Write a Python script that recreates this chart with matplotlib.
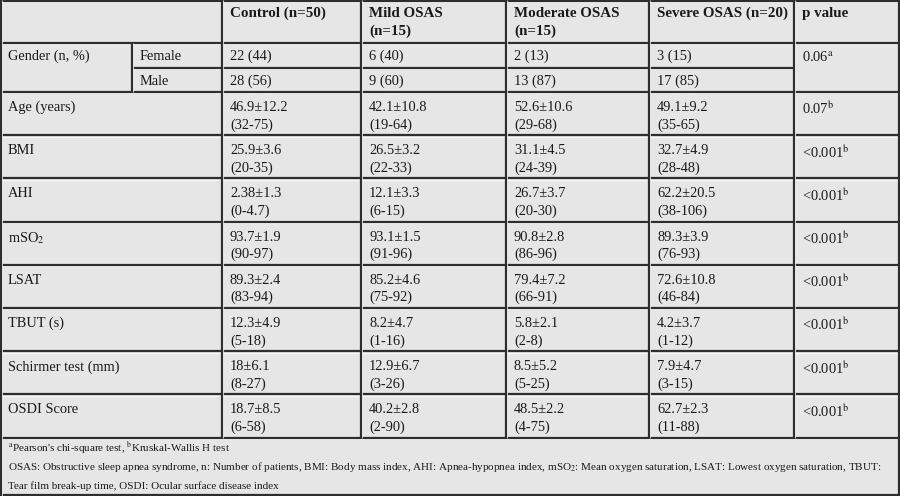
import matplotlib.pyplot as plt

plt.rcParams['font.family'] = ['Liberation Serif', 'DejaVu Serif']
plt.rcParams['mathtext.fontset'] = 'stix'

# table content
headers = ["Control (n=50)", "Mild OSAS\n(n=15)", "Moderate OSAS\n(n=15)", "Severe OSAS (n=20)", "p value"]
gender_female = ["22 (44)", "6 (40)", "2 (13)", "3 (15)"]
gender_male = ["28 (56)", "9 (60)", "13 (87)", "17 (85)"]
gender_p = "0.06$^{\\mathrm{a}}$"

row_labels = ["Age (years)", "BMI", "AHI", "mSO$_2$", "LSAT", "TBUT (s)",
              "Schirmer test (mm)", "OSDI Score"]
control = ["46.9±12.2\n(32-75)", "25.9±3.6\n(20-35)", "2.38±1.3\n(0-4.7)", "93.7±1.9\n(90-97)",
           "89.3±2.4\n(83-94)", "12.3±4.9\n(5-18)", "18±6.1\n(8-27)", "18.7±8.5\n(6-58)"]
mild = ["42.1±10.8\n(19-64)", "26.5±3.2\n(22-33)", "12.1±3.3\n(6-15)", "93.1±1.5\n(91-96)",
        "85.2±4.6\n(75-92)", "8.2±4.7\n(1-16)", "12.9±6.7\n(3-26)", "40.2±2.8\n(2-90)"]
moderate = ["52.6±10.6\n(29-68)", "31.1±4.5\n(24-39)", "26.7±3.7\n(20-30)", "90.8±2.8\n(86-96)",
            "79.4±7.2\n(66-91)", "5.8±2.1\n(2-8)", "8.5±5.2\n(5-25)", "48.5±2.2\n(4-75)"]
severe = ["49.1±9.2\n(35-65)", "32.7±4.9\n(28-48)", "62.2±20.5\n(38-106)", "89.3±3.9\n(76-93)",
          "72.6±10.8\n(46-84)", "4.2±3.7\n(1-12)", "7.9±4.7\n(3-15)", "62.7±2.3\n(11-88)"]
p_values = ["0.07$^{\\mathrm{b}}$"] + ["<0.001$^{\\mathrm{b}}$"] * 7

footnotes = [
    "$^{\\mathrm{a}}$Pearson's chi-square test, $^{\\mathrm{b}}$Kruskal-Wallis H test",
    "OSAS: Obstructive sleep apnea syndrome, n: Number of patients, BMI: Body mass index, AHI: "
    "Apnea-hypopnea index, mSO$_2$: Mean oxygen saturation, LSAT: Lowest oxygen saturation, TBUT:",
    "Tear film break-up time, OSDI: Ocular surface disease index",
]

# layout (pixels)
col_x = [0, 132, 222, 361, 506, 649, 794, 898.5]
header_bottom = 43
female_bottom = 68
male_bottom = 92
row_h = 43.2
table_bottom = male_bottom + row_h * len(row_labels)
fig_w, fig_h = 900, 496

bg = '#e6e6e7'
line_c = '#2e2e2e'
txt_c = '#1a1a1a'
fs = 10.4

fig = plt.figure(figsize=(9, 4.96), dpi=100)
fig.patch.set_facecolor(bg)
ax = fig.add_axes([0, 0, 1, 1])
ax.set_xlim(0, fig_w)
ax.set_ylim(fig_h, 0)
ax.axis('off')


def hline(y, x0, x1):
    ax.plot([x0, x1], [y + 1.4, y + 1.4], color='white', lw=0.8, alpha=0.8, solid_capstyle='butt')
    ax.plot([x0, x1], [y, y], color=line_c, lw=1.6, solid_capstyle='butt')


def vline(x, y0, y1):
    ax.plot([x + 1.4, x + 1.4], [y0, y1], color='white', lw=0.8, alpha=0.8, solid_capstyle='butt')
    ax.plot([x, x], [y0, y1], color=line_c, lw=1.6, solid_capstyle='butt')


# horizontal rules
hline(0.8, 0, col_x[-1])
hline(header_bottom, 0, col_x[-1])
hline(female_bottom, col_x[1], col_x[6])
hline(male_bottom, 0, col_x[-1])
for i in range(1, len(row_labels) + 1):
    hline(male_bottom + row_h * i, 0, col_x[-1])
hline(fig_h - 1, 0, col_x[-1])

# vertical rules
vline(0.8, 0, fig_h)
vline(col_x[-1], 0, fig_h)
vline(col_x[1], header_bottom, male_bottom)
for x in col_x[2:7]:
    vline(x, 0, table_bottom)

pad = 8
# header
for j, h in enumerate(headers):
    ax.text(col_x[j + 2] + pad, 7, h, fontsize=10.8, fontweight='bold', color=txt_c,
            va='top', ha='left', linespacing=1.45)

# gender rows
g_off = 7
ax.text(pad, header_bottom + g_off, "Gender (n, %)", fontsize=fs, color=txt_c, va='top')
ax.text(col_x[1] + pad, header_bottom + g_off, "Female", fontsize=fs, color=txt_c, va='top')
ax.text(col_x[1] + pad, female_bottom + g_off, "Male", fontsize=fs, color=txt_c, va='top')
for j in range(4):
    ax.text(col_x[j + 2] + pad, header_bottom + g_off, gender_female[j], fontsize=fs, color=txt_c, va='top')
    ax.text(col_x[j + 2] + pad, female_bottom + g_off, gender_male[j], fontsize=fs, color=txt_c, va='top')
ax.text(col_x[6] + pad, header_bottom + g_off, gender_p, fontsize=fs, color=txt_c, va='top')

# numeric rows
cols = [control, mild, moderate, severe]
for i, lab in enumerate(row_labels):
    top = male_bottom + row_h * i + 9
    ax.text(pad, top, lab, fontsize=fs, color=txt_c, va='top')
    for j, col in enumerate(cols):
        ax.text(col_x[j + 2] + pad, top, col[i], fontsize=fs, color=txt_c, va='top', linespacing=1.4)
    ax.text(col_x[6] + pad, top, p_values[i], fontsize=fs, color=txt_c, va='top')

# footnotes, the long middle line is fitted to the box width
fig.canvas.draw()
renderer = fig.canvas.get_renderer()
fn_texts = []
for k, note in enumerate(footnotes):
    fn_texts.append(ax.text(pad, 448 + 19 * k, note, fontsize=9, color=txt_c, va='center', ha='left'))
w = fn_texts[1].get_window_extent(renderer).width
fn_size = 9 * 874 / w
for t in fn_texts:
    t.set_fontsize(fn_size)

fig.savefig('out.png', dpi=100, facecolor=bg)
